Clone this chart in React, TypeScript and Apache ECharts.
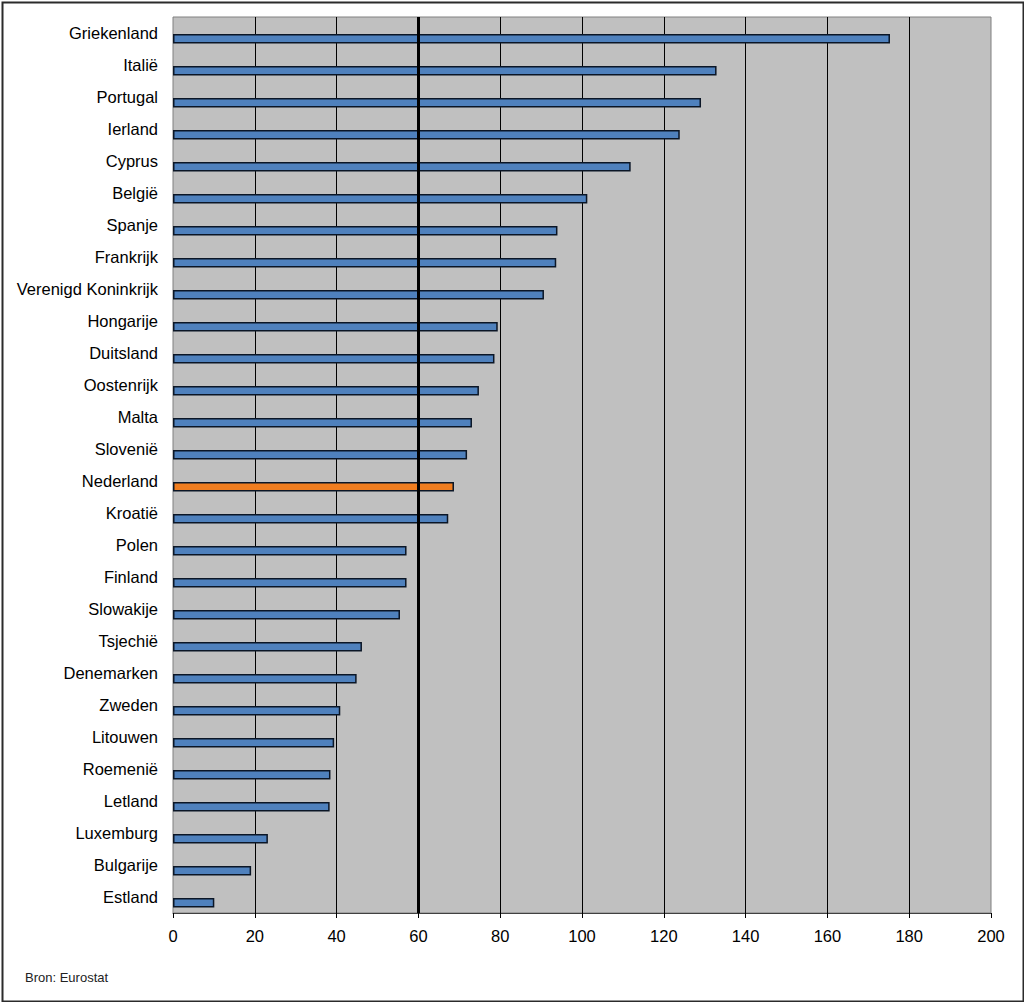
import React, { useEffect, useRef } from "react";
import * as echarts from "echarts";

const countries = [
  "Griekenland", "Italië", "Portugal", "Ierland", "Cyprus", "België", "Spanje",
  "Frankrijk", "Verenigd Koninkrijk", "Hongarije", "Duitsland", "Oostenrijk",
  "Malta", "Slovenië", "Nederland", "Kroatië", "Polen", "Finland", "Slowakije",
  "Tsjechië", "Denemarken", "Zweden", "Litouwen", "Roemenië", "Letland",
  "Luxemburg", "Bulgarije", "Estland",
];
const debtValues = [
  175.3, 132.9, 129.1, 123.9, 111.9, 101.3, 94.0, 93.7, 90.7, 79.4, 78.6, 74.8,
  73.1, 71.9, 68.7, 67.3, 57.1, 57.1, 55.5, 46.2, 44.9, 40.9, 39.4, 38.5, 38.3,
  23.2, 19.1, 10.1,
];
const highlightCountry = "Nederland";
const referenceLine = 60;
const xTicks = { min: 0, max: 200, interval: 20 };
const sourceText = "Bron: Eurostat";

const FONT = 'Arial, "Liberation Sans", sans-serif';

export default function App() {
  const ref = useRef<HTMLDivElement>(null);
  useEffect(() => {
    if (!ref.current) return;
    const chart = echarts.init(ref.current, undefined, { renderer: "svg" });
    const barData = debtValues.map((v, i) => ({
      value: v,
      itemStyle: {
        color: countries[i] === highlightCountry ? "#F07D1F" : "#4F81BD",
      },
    }));
    chart.setOption({
      animation: false,
      backgroundColor: "#ffffff",
      textStyle: { fontFamily: FONT },
      grid: {
        left: 173,
        top: 17,
        right: 33,
        bottom: 89,
        show: true,
        backgroundColor: "#C0C0C0",
        borderColor: "#808080",
        borderWidth: 1,
      },
      xAxis: {
        type: "value",
        min: xTicks.min,
        max: xTicks.max,
        interval: xTicks.interval,
        axisLine: { show: true, lineStyle: { color: "#404040", width: 1 } },
        axisTick: { show: true, length: 5, lineStyle: { color: "#000" } },
        axisLabel: { color: "#000", fontSize: 16.5, margin: 14, fontFamily: FONT },
        splitLine: {
          show: true,
          showMinLine: false,
          showMaxLine: false,
          lineStyle: { color: "#000", width: 1 },
        },
      },
      yAxis: {
        type: "category",
        inverse: true,
        data: countries,
        axisLine: { show: false },
        axisTick: { show: false },
        axisLabel: { color: "#000", fontSize: 16.5, margin: 15, fontFamily: FONT },
      },
      series: [
        {
          type: "bar",
          data: debtValues.map(() => null),
          barWidth: 9.5,
          barGap: "20%",
          silent: true,
        },
        {
          type: "bar",
          data: barData,
          barWidth: 9.5,
          barGap: "20%",
          itemStyle: { borderColor: "#0b1626", borderWidth: 1.5 },
          markLine: {
            silent: true,
            symbol: ["none", "none"],
            label: { show: false },
            lineStyle: { color: "#000", width: 3, type: "solid" },
            data: [{ xAxis: referenceLine }],
            z: 10,
          },
        },
      ],
      graphic: [
        {
          type: "rect",
          left: 0,
          top: 0,
          shape: { x: 1, y: 1, width: 1021, height: 999 },
          style: { fill: "none", stroke: "#2b2b2b", lineWidth: 2 },
          silent: true,
        },
        {
          type: "text",
          left: 25,
          top: 971,
          style: { text: sourceText, fontSize: 13, fill: "#222", fontFamily: FONT },
        },
      ],
    });
    return () => chart.dispose();
  }, []);
  return (
    <div
      ref={ref}
      style={{ position: "fixed", left: 0, top: 0, width: 1024, height: 1002 }}
    />
  );
}
